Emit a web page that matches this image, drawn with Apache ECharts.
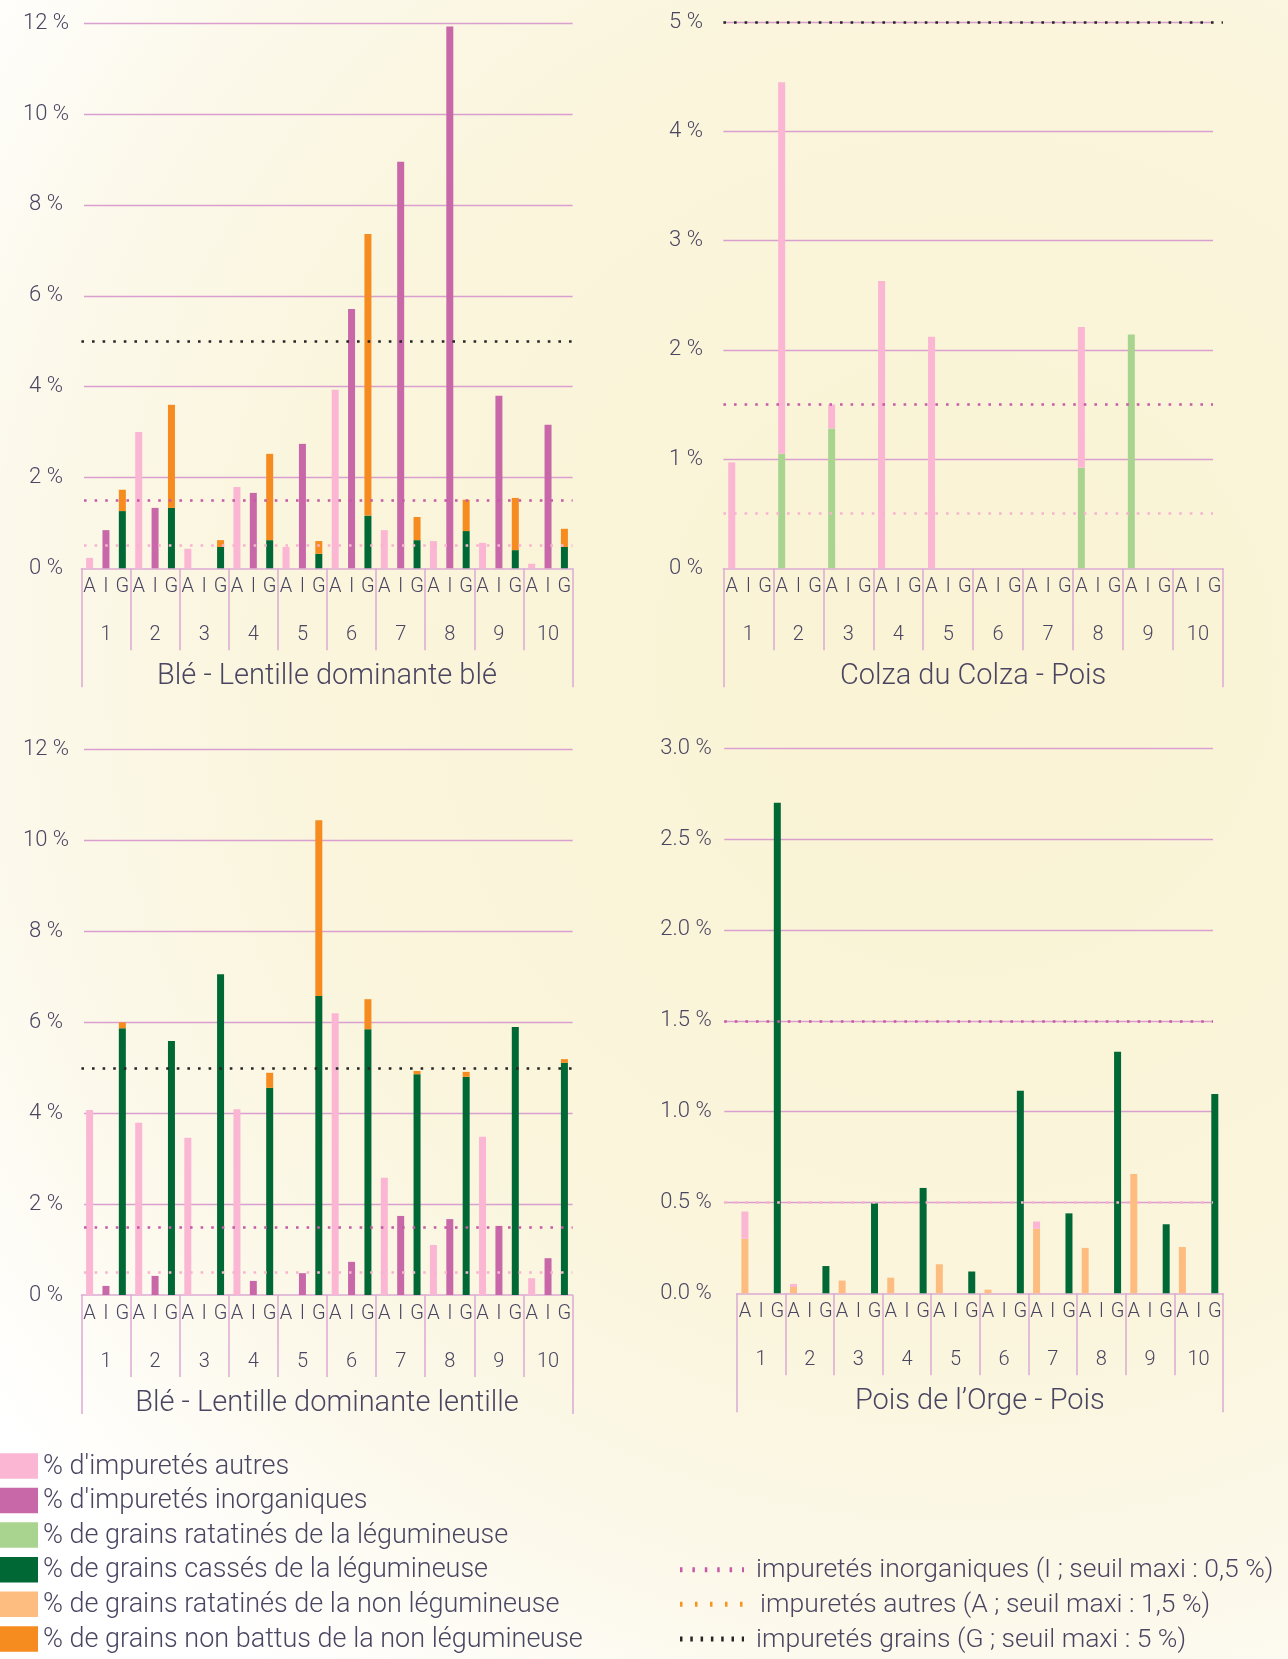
<!DOCTYPE html>
<html>
<head>
<meta charset="utf-8">
<script src="https://cdn.jsdelivr.net/npm/echarts@6/dist/echarts.min.js"></script>
<style>
html, body { margin: 0; padding: 0; background: #fff; }
#chart { width: 1288px; height: 1659px; }
</style>
</head>
<body>
<div id="chart"></div>
<script>
// tick labels / categories
var groupLabels = ['1', '2', '3', '4', '5', '6', '7', '8', '9', '10'];
var slotLabels = ['A', 'I', 'G'];
var panelTitles = ['Blé - Lentille dominante blé', 'Colza du Colza - Pois', 'Blé - Lentille dominante lentille', 'Pois de l’Orge - Pois'];
var legendLabels = ["% d'impuretés autres", "% d'impuretés inorganiques", "% de grains ratatinés de la légumineuse",
    "% de grains cassés de la légumineuse", "% de grains ratatinés de la non légumineuse", "% de grains non battus de la non légumineuse"];
var seuilLabels = ['impuretés inorganiques (I ; seuil maxi : 0,5 %)', 'impuretés autres (A ; seuil maxi : 1,5 %)', 'impuretés grains (G ; seuil maxi : 5 %)'];

// Blé - Lentille dominante blé
var p1Autres    = [0.23, 3.0, 0.43, 1.79, 0.47, 3.93, 0.84, 0.6, 0.56, 0.1];
var p1Inorg     = [0.84, 1.33, 0, 1.66, 2.74, 5.71, 8.95, 11.93, 3.8, 3.16];
var p1Casses    = [1.26, 1.33, 0.47, 0.62, 0.32, 1.16, 0.62, 0.82, 0.4, 0.47];
var p1NonBattus = [0.47, 2.27, 0.15, 1.9, 0.28, 6.2, 0.51, 0.69, 1.15, 0.4];

// Colza du Colza - Pois
var p2RatLeg = [0, 1.05, 1.28, 0, 0, 0, 0, 0.92, 2.14, 0];
var p2Autres = [0.97, 3.4, 0.22, 2.63, 2.12, 0, 0, 1.29, 0, 0];

// Blé - Lentille dominante lentille
var p3Autres    = [4.07, 3.79, 3.46, 4.09, 0, 6.2, 2.58, 1.1, 3.48, 0.37];
var p3Inorg     = [0.2, 0.42, 0, 0.31, 0.48, 0.73, 1.74, 1.67, 1.52, 0.81];
var p3Casses    = [5.87, 5.59, 7.06, 4.56, 6.58, 5.85, 4.86, 4.8, 5.9, 5.11];
var p3NonBattus = [0.13, 0, 0, 0.33, 3.87, 0.66, 0.07, 0.11, 0, 0.08];

// Pois de l'Orge - Pois
var p4RatNonLeg = [0.3, 0.035, 0.07, 0.086, 0.16, 0.02, 0.355, 0.25, 0.657, 0.255];
var p4Autres    = [0.15, 0.016, 0, 0, 0, 0, 0.04, 0, 0, 0];
var p4Casses    = [2.7, 0.15, 0.495, 0.58, 0.12, 1.115, 0.44, 1.33, 0.38, 1.097];

var yMax  = [12, 5, 12, 3];
var yStep = [2, 1, 2, 0.5];
var seuils = [[5, 1.5, 0.5], [5, 1.5, 0.5], [5, 1.5, 0.5], [1.5, 0.5]];

var colors = ['#fbb6d3', '#c868a8', '#a9d48f', '#006834', '#fdbd80', '#f68b1f'];
var seuilColors = {5: '#262626', 1.5: '#c65aa6', 0.5: '#f9b3d0'};
var textColor = '#4a4561';
var boxColor = '#dcaad4';
var gridColor = '#d9a0cf';
var font = 'Roboto';

// [couleur, position A/I/G, valeurs] de bas en haut
var panelSeries = [
    [[3, 2, p1Casses], [5, 2, p1NonBattus], [0, 0, p1Autres], [1, 1, p1Inorg]],
    [[2, 0, p2RatLeg], [0, 0, p2Autres]],
    [[3, 2, p3Casses], [5, 2, p3NonBattus], [0, 0, p3Autres], [1, 1, p3Inorg]],
    [[4, 0, p4RatNonLeg], [0, 0, p4Autres], [3, 2, p4Casses]]
];

// mise en page des 4 graphes (boite de l'axe / lignes de grille)
var layout = [
    {boxLeft: 81.4, boxWidth: 491.2, top: 23.3, height: 545, gLeft: 84, gWidth: 488.6, labelX: 46},
    {boxLeft: 723.4, boxWidth: 499.5, top: 22.3, height: 546, gLeft: 723.4, gWidth: 489.6, labelX: 686},
    {boxLeft: 81.4, boxWidth: 491.2, top: 749.7, height: 545.3, gLeft: 84, gWidth: 488.6, labelX: 46},
    {boxLeft: 736.8, boxWidth: 486.1, top: 748.3, height: 545, gLeft: 724.2, gWidth: 488.8, labelX: 686}
];

var slotData = [];
groupLabels.forEach(function () { slotLabels.forEach(function (s) { slotData.push(s); }); });

function toSlots(values, slot) {
    var arr = [];
    for (var i = 0; i < slotData.length; i++) arr.push(null);
    values.forEach(function (v, k) { arr[k * 3 + slot] = v; });
    return arr;
}

var grids = [], xAxes = [], yAxes = [], series = [];

layout.forEach(function (L, p) {
    var ga = grids.length;
    grids.push({left: L.boxLeft, top: L.top, width: L.boxWidth, height: L.height, outerBoundsMode: 'none'});
    grids.push({left: L.gLeft, top: L.top, width: L.gWidth, height: L.height, outerBoundsMode: 'none'});

    var xSlot = xAxes.length;
    xAxes.push({
        type: 'category', gridIndex: ga, position: 'bottom', data: slotData,
        axisLine: {lineStyle: {color: boxColor, width: 1.5}},
        axisTick: {show: false},
        axisLabel: {interval: 0, margin: 8.5, fontSize: 20, lineHeight: 20, color: textColor, fontFamily: font, fontWeight: 300}
    });
    xAxes.push({
        type: 'category', gridIndex: ga, position: 'bottom', data: groupLabels,
        axisLine: {show: false},
        axisTick: {show: true, interval: 0, length: 82, lineStyle: {color: boxColor, width: 1.5}},
        axisLabel: {interval: 0, margin: 56.5, fontSize: 20, lineHeight: 20, color: textColor, fontFamily: font, fontWeight: 300}
    });
    xAxes.push({
        type: 'category', gridIndex: ga, position: 'bottom', data: [panelTitles[p]],
        axisLine: {show: false},
        axisTick: {show: true, length: 119, lineStyle: {color: boxColor, width: 1.5}},
        axisLabel: {interval: 0, margin: 94, fontSize: 29, lineHeight: 29, color: textColor, fontFamily: font, fontWeight: 300}
    });
    var xB = xAxes.length;
    xAxes.push({type: 'category', gridIndex: ga + 1, data: slotData, show: false});

    var yA = yAxes.length;
    yAxes.push({type: 'value', gridIndex: ga, min: 0, max: yMax[p], show: false});
    var yB = yAxes.length;
    yAxes.push({
        type: 'value', gridIndex: ga + 1, min: 0, max: yMax[p], interval: yStep[p],
        axisLine: {show: false}, axisTick: {show: false},
        axisLabel: {
            align: 'center', margin: L.gLeft - L.labelX, fontSize: 22, color: textColor, fontFamily: font, fontWeight: 300,
            formatter: function (v) { return (yStep[p] < 1 ? v.toFixed(1) : v) + ' %'; }
        },
        splitLine: {show: true, showMinLine: false, lineStyle: {color: gridColor, width: 1.3}}
    });

    panelSeries[p].forEach(function (s) {
        series.push({
            type: 'bar', xAxisIndex: xSlot, yAxisIndex: yA, stack: 'p' + p,
            barWidth: 7, itemStyle: {color: colors[s[0]]},
            data: toSlots(s[2], s[1])
        });
    });

    // lignes de seuil en pointillé
    seuils[p].forEach(function (t) {
        var onBox = t === 5;
        series.push({
            type: 'line', xAxisIndex: onBox ? xSlot : xB, yAxisIndex: onBox ? yA : yB,
            data: [], silent: true, z: 10,
            markLine: {
                silent: true, symbol: 'none', label: {show: false},
                lineStyle: {color: seuilColors[t], type: [2.6, 8], width: 2.6, cap: 'butt'},
                data: [{yAxis: t}]
            }
        });
    });
});

// légende
var graphic = [];
var rowY = [1466, 1500.5, 1535, 1569.7, 1604.3, 1639];
legendLabels.forEach(function (lab, i) {
    graphic.push({type: 'rect', shape: {x: 0, y: rowY[i] - 12.8, width: 38, height: 25.6}, style: {fill: colors[i]}});
    graphic.push({type: 'text', x: 43, y: rowY[i] + 1, style: {text: lab, fill: textColor, fontSize: 27, fontFamily: font, fontWeight: 300, verticalAlign: 'middle'}});
});
var seuilSample = [[1.5, 12.4], [0.5, 15], [5, 10.3]];
var sampleCol = ['#c65aa6', '#f7941d', '#262626'];
seuilLabels.forEach(function (lab, i) {
    var y = rowY[i + 3];
    graphic.push({type: 'line', shape: {x1: 680, y1: y, x2: 744, y2: y},
        style: {stroke: sampleCol[i], lineWidth: 5, lineDash: [2.5, seuilSample[i][1] - 2.5]}});
    graphic.push({type: 'text', x: i === 1 ? 760 : 756, y: y + 1, style: {text: lab, fill: textColor, fontSize: 26.5, fontFamily: font, fontWeight: 300, verticalAlign: 'middle'}});
});

var chart = echarts.init(document.getElementById('chart'));
chart.setOption({
    animation: false,
    backgroundColor: {
        type: 'radial', x: 0.75, y: 0.4, r: 0.95,
        colorStops: [
            {offset: 0, color: '#faf3d4'},
            {offset: 0.55, color: '#faf5dc'},
            {offset: 0.8, color: '#fcf9ec'},
            {offset: 1, color: '#ffffff'}
        ]
    },
    grid: grids,
    xAxis: xAxes,
    yAxis: yAxes,
    series: series,
    graphic: graphic
});
</script>
</body>
</html>
